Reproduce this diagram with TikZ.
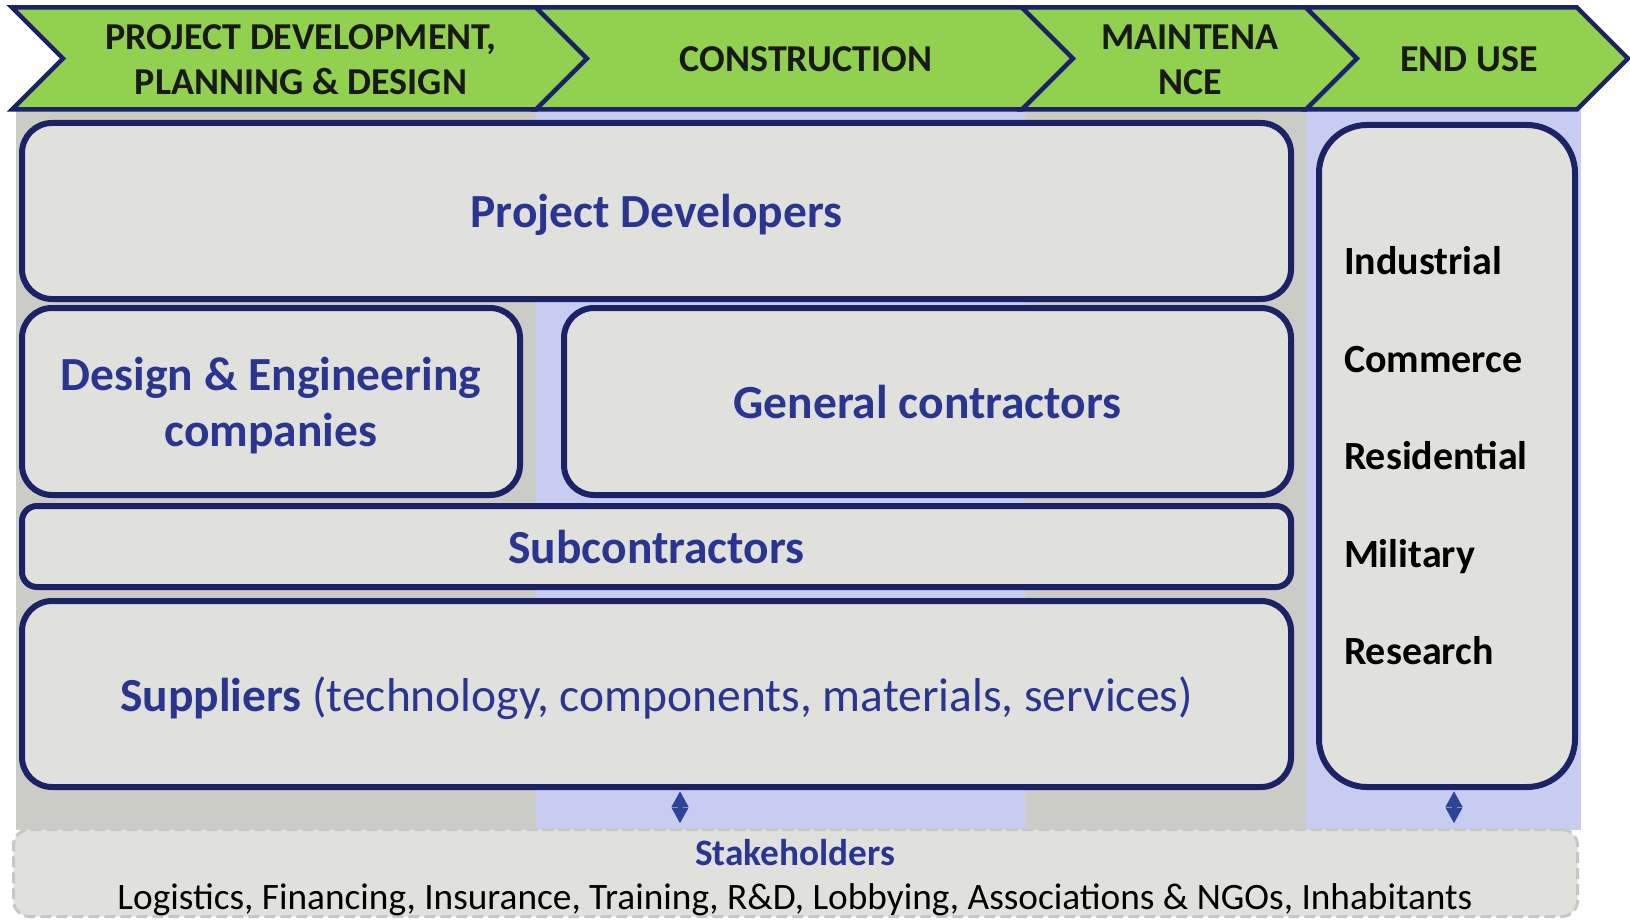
\documentclass[tikz,border=0pt]{standalone}
\usepackage{fontspec}
\setmainfont{Carlito}
\usetikzlibrary{arrows.meta,positioning}

\definecolor{navyline}{HTML}{1B2266}
\definecolor{phasegreen}{HTML}{92D050}
\definecolor{boxfill}{HTML}{E0E1DC}
\definecolor{colgrey}{HTML}{CBCCC5}
\definecolor{collilac}{HTML}{C8CCF0}
\definecolor{actorblue}{HTML}{2A3590}
\definecolor{dashgrey}{HTML}{C3C8C8}
\definecolor{linkblue}{HTML}{2D4596}

\begin{document}
\begin{tikzpicture}[x=1pt,y=-1pt,
  phase/.style={draw=navyline,line width=4.5pt,fill=phasegreen,line join=miter},
  phaselabel/.style={font=\fontsize{38}{45}\selectfont\bfseries,align=center,text=black!90},
  actor/.style={draw=navyline,line width=6pt,fill=boxfill,rounded corners=30pt,text depth=0pt,
    font=\fontsize{47.5}{56}\selectfont\bfseries,text=actorblue,align=center},
  stake/.style={draw=dashgrey,line width=3pt,dash pattern=on 11pt off 5pt,fill=boxfill,rounded corners=16pt},
  link/.style={{Triangle[length=16pt,width=16pt]}-{Triangle[length=16pt,width=16pt]},line width=5pt,draw=linkblue,fill=linkblue}]
  \useasboundingbox (0,0) rectangle (1630,920);
  % Define the background columns of the phases
  \fill[colgrey] (16,105) rectangle (536,830);
  \fill[collilac] (536,105) rectangle (1025,830);
  \fill[colgrey] (1025,105) rectangle (1306,830);
  \fill[collilac] (1306,105) rectangle (1581,830);
  % Draw the phase chevrons
  \draw[phase] (12,7.5) -- (536,7.5) -- (587,58.5) -- (536,109.5) -- (12,109.5) -- (63,58.5) -- cycle;
  \draw[phase] (536,7.5) -- (1022,7.5) -- (1073,58.5) -- (1022,109.5) -- (536,109.5) -- (587,58.5) -- cycle;
  \draw[phase] (1022,7.5) -- (1306,7.5) -- (1357,58.5) -- (1306,109.5) -- (1022,109.5) -- (1073,58.5) -- cycle;
  \draw[phase] (1306,7.5) -- (1577,7.5) -- (1628,58.5) -- (1577,109.5) -- (1306,109.5) -- (1357,58.5) -- cycle;
  \path (301,59.5) node[phaselabel] (F1) {PROJECT DEVELOPMENT,\\PLANNING \& DESIGN};
  \path (806,59) node[phaselabel] (F2) {CONSTRUCTION};
  \path (1190,59.5) node[phaselabel] (F3) {MAINTENA\\NCE};
  \path (1469,59) node[phaselabel] (F4) {END USE};
  % Define the actor boxes
  \path (656.5,211) node[actor,minimum width=1269pt,minimum height=176pt] (PD) {Project Developers};
  \path (271,401.5) node[actor,minimum width=498pt,minimum height=187pt] (DE) {Design \& Engineering\\companies};
  \path (927.5,401.5) node[actor,minimum width=727pt,minimum height=187pt] (GC) {General contractors};
  \path (656.5,546.5) node[actor,rounded corners=15pt,minimum width=1269pt,minimum height=81pt] (SUB) {Subcontractors};
  \path (656.5,694) node[actor,minimum width=1269pt,minimum height=186pt] (SUP) {Suppliers \mdseries(technology, components, materials, services)};
  \path (1447,456) node[actor,rounded corners=48pt,minimum width=256pt,minimum height=662pt,text depth={},
    text width=206pt,align=left,text=black,font=\fontsize{40}{97.5}\selectfont\bfseries] (EU)
    {Industrial\\Commerce\\Residential\\Military\\Research};
  % Define the stakeholders box
  \path (795.5,873) node[stake,minimum width=1564pt,minimum height=87pt] (SH) {};
  \path (795,865) node[anchor=base,font=\fontsize{37.3}{45}\selectfont\bfseries,text=actorblue] (SHT) {Stakeholders};
  \path (795,909) node[anchor=base,font=\fontsize{37.3}{45}\selectfont,text=black] (SHL)
    {Logistics, Financing, Insurance, Training, R\&D, Lobbying, Associations \& NGOs, Inhabitants};
  % Draw the links to the stakeholders
  \coordinate (A1) at (680,0);
  \coordinate (A2) at (1454,0);
  \draw[link,shorten <=1pt,shorten >=4.5pt] (SUP.south -| A1) -- (SH.north -| A1);
  \draw[link,shorten <=1pt,shorten >=4.5pt] (EU.south -| A2) -- (SH.north -| A2);
\end{tikzpicture}
\end{document}
